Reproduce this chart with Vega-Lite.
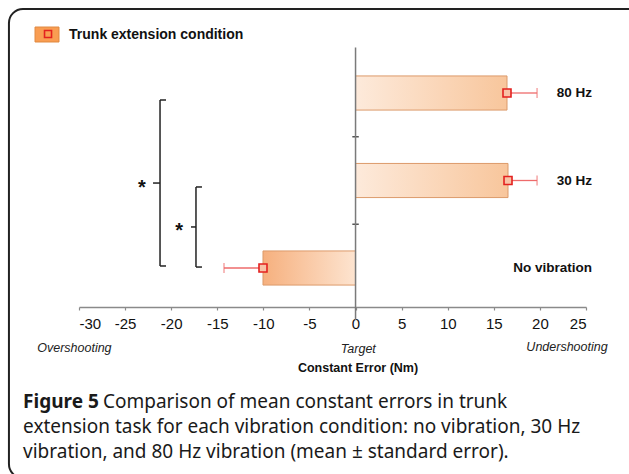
{
  "$schema": "https://vega.github.io/schema/vega-lite/v6.json",
  "width": 629,
  "height": 474,
  "padding": 0,
  "autosize": {"type": "none"},
  "background": "white",
  "config": {"view": {"stroke": null}, "font": "Liberation Sans", "text": {"font": "Liberation Sans", "color": "#111"}},
  "datasets": {
    "conds": [
      {"cond": "80 Hz", "mean": 16.43, "errEnd": 19.69},
      {"cond": "30 Hz", "mean": 16.54, "errEnd": 19.69},
      {"cond": "No vibration", "mean": -10.04, "errEnd": -14.27}
    ]
  },
  "resolve": {"scale": {"y": "independent"}},
  "layer": [
    {
      "data": {"name": "conds"},
      "layer": [
        {
          "transform": [{"filter": "datum.mean > 0"}],
          "mark": {"type": "bar", "height": {"band": 0.39}, "stroke": "#dc9a6a", "strokeWidth": 1,
            "fill": {"gradient": "linear", "x1": 0, "y1": 0, "x2": 1, "y2": 0, "stops": [{"offset": 0, "color": "#fdeadb"}, {"offset": 1, "color": "#f8c69c"}]}},
          "encoding": {
            "y": {"field": "cond", "type": "nominal", "axis": null,
              "scale": {"type": "band", "domain": ["80 Hz", "30 Hz", "No vibration"], "range": [49.25, 311.75], "paddingInner": 0, "paddingOuter": 0}},
            "x": {"field": "mean", "type": "quantitative",
              "scale": {"domain": [-30, 25], "range": [79, 586], "nice": false, "zero": false},
              "axis": {"values": [-30, -25, -20, -15, -10, -5, 0, 5, 10, 15, 20, 25], "offset": -167, "title": null, "grid": false,
                "labelExpr": "'' + datum.value",
                "domainColor": "#8a8a8a", "domainWidth": 1.5, "tickColor": "#8a8a8a", "tickSize": 3, "tickWidth": 1.2,
                "labelFontSize": 15, "labelColor": "#111", "labelPadding": 6, "labelFont": "Liberation Sans"}},
            "x2": {"datum": 0}
          }
        },
        {
          "transform": [{"filter": "datum.mean < 0"}],
          "mark": {"type": "bar", "height": {"band": 0.39}, "stroke": "#dc9a6a", "strokeWidth": 1,
            "fill": {"gradient": "linear", "x1": 0, "y1": 0, "x2": 1, "y2": 0, "stops": [{"offset": 0, "color": "#f6b07e"}, {"offset": 1, "color": "#fde4d0"}]}},
          "encoding": {
            "y": {"field": "cond", "type": "nominal", "axis": null},
            "x": {"field": "mean", "type": "quantitative"},
            "x2": {"datum": 0}
          }
        },
        {
          "transform": [{"filter": "datum.cond != '80 Hz'"}],
          "mark": {"type": "rule", "color": "#555", "strokeWidth": 1.5},
          "encoding": {
            "x": {"datum": -0.35, "type": "quantitative"},
            "x2": {"datum": 0.35},
            "y": {"field": "cond", "type": "nominal", "bandPosition": 0, "axis": null}
          }
        },
        {
          "mark": {"type": "rule", "color": "#ee6b6b", "strokeWidth": 1.3},
          "encoding": {
            "x": {"field": "mean", "type": "quantitative"},
            "x2": {"field": "errEnd"},
            "y": {"field": "cond", "type": "nominal", "axis": null}
          }
        },
        {
          "mark": {"type": "tick", "orient": "vertical", "size": 10, "thickness": 1.3, "color": "#ee6b6b"},
          "encoding": {
            "x": {"field": "errEnd", "type": "quantitative"},
            "y": {"field": "cond", "type": "nominal", "axis": null}
          }
        },
        {
          "mark": {"type": "point", "shape": "square", "size": 64, "filled": true, "fill": "#f8c2a6", "stroke": "#e3211f", "strokeWidth": 1.6, "opacity": 1},
          "encoding": {
            "x": {"field": "mean", "type": "quantitative"},
            "y": {"field": "cond", "type": "nominal", "axis": null}
          }
        },
        {
          "mark": {"type": "text", "align": "right", "baseline": "middle", "fontWeight": "bold", "fontSize": 13.5},
          "encoding": {
            "x": {"datum": 25.65, "type": "quantitative"},
            "y": {"field": "cond", "type": "nominal", "axis": null},
            "text": {"field": "cond"}
          }
        }
      ]
    },
    {
      "data": {"values": [{"k": 1}]},
      "layer": [
        {
          "mark": {"type": "rect", "fill": "transparent", "stroke": "#222", "strokeWidth": 2, "cornerRadius": 14, "clip": true},
          "encoding": {
            "x": {"datum": -37.6, "type": "quantitative"},
            "x2": {"datum": 45},
            "y": {"datum": -0.46, "type": "quantitative", "axis": null,
              "scale": {"domain": [-0.5629, 4.8543], "range": [0, 474], "nice": false, "zero": false}},
            "y2": {"datum": 4.9}
          }
        },
        {
          "mark": {"type": "rule", "color": "#7a7a7a", "strokeWidth": 1.5},
          "encoding": {
            "x": {"datum": 0, "type": "quantitative"},
            "y": {"datum": -0.02, "type": "quantitative", "axis": null},
            "y2": {"datum": 3.094}
          }
        },
        {
          "mark": {"type": "rule", "color": "#222", "strokeWidth": 1.5},
          "encoding": {
            "x": {"datum": -21.21, "type": "quantitative"},
            "y": {"datum": 0.58, "type": "quantitative", "axis": null},
            "y2": {"datum": 2.477}
          }
        },
        {
          "mark": {"type": "rule", "color": "#222", "strokeWidth": 1.5},
          "encoding": {
            "x": {"datum": -21.21, "type": "quantitative"},
            "x2": {"datum": -20.56},
            "y": {"datum": 0.58, "type": "quantitative", "axis": null}
          }
        },
        {
          "mark": {"type": "rule", "color": "#222", "strokeWidth": 1.5},
          "encoding": {
            "x": {"datum": -21.21, "type": "quantitative"},
            "x2": {"datum": -20.56},
            "y": {"datum": 2.477, "type": "quantitative", "axis": null}
          }
        },
        {
          "mark": {"type": "rule", "color": "#222", "strokeWidth": 1.5},
          "encoding": {
            "x": {"datum": -21.97, "type": "quantitative"},
            "x2": {"datum": -21.21},
            "y": {"datum": 1.529, "type": "quantitative", "axis": null}
          }
        },
        {
          "mark": {"type": "rule", "color": "#222", "strokeWidth": 1.5},
          "encoding": {
            "x": {"datum": -17.31, "type": "quantitative"},
            "y": {"datum": 1.574, "type": "quantitative", "axis": null},
            "y2": {"datum": 2.489}
          }
        },
        {
          "mark": {"type": "rule", "color": "#222", "strokeWidth": 1.5},
          "encoding": {
            "x": {"datum": -17.31, "type": "quantitative"},
            "x2": {"datum": -16.66},
            "y": {"datum": 1.574, "type": "quantitative", "axis": null}
          }
        },
        {
          "mark": {"type": "rule", "color": "#222", "strokeWidth": 1.5},
          "encoding": {
            "x": {"datum": -17.31, "type": "quantitative"},
            "x2": {"datum": -16.66},
            "y": {"datum": 2.489, "type": "quantitative", "axis": null}
          }
        },
        {
          "mark": {"type": "rule", "color": "#222", "strokeWidth": 1.5},
          "encoding": {
            "x": {"datum": -17.85, "type": "quantitative"},
            "x2": {"datum": -17.31},
            "y": {"datum": 2.031, "type": "quantitative", "axis": null}
          }
        },
        {
          "mark": {"type": "text", "text": "*", "align": "center", "baseline": "middle", "fontWeight": "bold", "fontSize": 20, "dy": 5},
          "encoding": {
            "x": {"datum": -23.17, "type": "quantitative"},
            "y": {"datum": 1.529, "type": "quantitative", "axis": null}
          }
        },
        {
          "mark": {"type": "text", "text": "*", "align": "center", "baseline": "middle", "fontWeight": "bold", "fontSize": 20, "dy": 4},
          "encoding": {
            "x": {"datum": -19.15, "type": "quantitative"},
            "y": {"datum": 2.031, "type": "quantitative", "axis": null}
          }
        },
        {
          "mark": {"type": "text", "text": "Overshooting", "align": "center", "baseline": "middle", "fontStyle": "italic", "fontSize": 12.5, "color": "#222"},
          "encoding": {
            "x": {"datum": -30.5, "type": "quantitative"},
            "y": {"datum": 3.414, "type": "quantitative", "axis": null}
          }
        },
        {
          "mark": {"type": "text", "text": "Target", "align": "center", "baseline": "middle", "fontStyle": "italic", "fontSize": 12.5, "color": "#222"},
          "encoding": {
            "x": {"datum": 0.3, "type": "quantitative"},
            "y": {"datum": 3.426, "type": "quantitative", "axis": null}
          }
        },
        {
          "mark": {"type": "text", "text": "Undershooting", "align": "center", "baseline": "middle", "fontStyle": "italic", "fontSize": 12.5, "color": "#222"},
          "encoding": {
            "x": {"datum": 22.94, "type": "quantitative"},
            "y": {"datum": 3.403, "type": "quantitative", "axis": null}
          }
        },
        {
          "mark": {"type": "text", "text": "Constant Error (Nm)", "align": "center", "baseline": "middle", "fontWeight": "bold", "fontSize": 12.5},
          "encoding": {
            "x": {"datum": 0.27, "type": "quantitative"},
            "y": {"datum": 3.643, "type": "quantitative", "axis": null}
          }
        },
        {
          "mark": {"type": "text", "text": "Figure 5", "align": "left", "baseline": "middle", "fontWeight": "bold", "fontSize": 19, "font": "Noto Sans", "color": "#1a1a1a"},
          "encoding": {
            "x": {"datum": -36.07, "type": "quantitative"},
            "y": {"datum": 4.031, "type": "quantitative", "axis": null}
          }
        },
        {
          "mark": {"type": "text", "text": "Comparison of mean constant errors in trunk", "align": "left", "baseline": "middle", "fontSize": 19, "font": "Noto Sans", "color": "#1a1a1a"},
          "encoding": {
            "x": {"datum": -27.4, "type": "quantitative"},
            "y": {"datum": 4.031, "type": "quantitative", "axis": null}
          }
        },
        {
          "mark": {"type": "text", "text": "extension task for each vibration condition: no vibration, 30 Hz", "align": "left", "baseline": "middle", "fontSize": 19, "font": "Noto Sans", "color": "#1a1a1a"},
          "encoding": {
            "x": {"datum": -36.07, "type": "quantitative"},
            "y": {"datum": 4.317, "type": "quantitative", "axis": null}
          }
        },
        {
          "mark": {"type": "text", "text": "vibration, and 80 Hz vibration (mean ± standard error).", "align": "left", "baseline": "middle", "fontSize": 19, "font": "Noto Sans", "color": "#1a1a1a"},
          "encoding": {
            "x": {"datum": -36.07, "type": "quantitative"},
            "y": {"datum": 4.603, "type": "quantitative", "axis": null}
          }
        },
        {
          "mark": {"type": "rect", "fill": "#f99d52", "stroke": "#e0883e", "strokeWidth": 1},
          "encoding": {
            "x": {"datum": -34.77, "type": "quantitative"},
            "x2": {"datum": -32.17},
            "y": {"datum": -0.254, "type": "quantitative", "axis": null},
            "y2": {"datum": -0.083}
          }
        },
        {
          "mark": {"type": "point", "shape": "square", "size": 49, "filled": true, "fill": "#f99d52", "stroke": "#e3211f", "strokeWidth": 1.6, "opacity": 1},
          "encoding": {
            "x": {"datum": -33.36, "type": "quantitative"},
            "y": {"datum": -0.174, "type": "quantitative", "axis": null}
          }
        },
        {
          "mark": {"type": "text", "text": "Trunk extension condition", "align": "left", "baseline": "middle", "fontWeight": "bold", "fontSize": 14},
          "encoding": {
            "x": {"datum": -31.08, "type": "quantitative"},
            "y": {"datum": -0.163, "type": "quantitative", "axis": null}
          }
        }
      ]
    }
  ]
}
